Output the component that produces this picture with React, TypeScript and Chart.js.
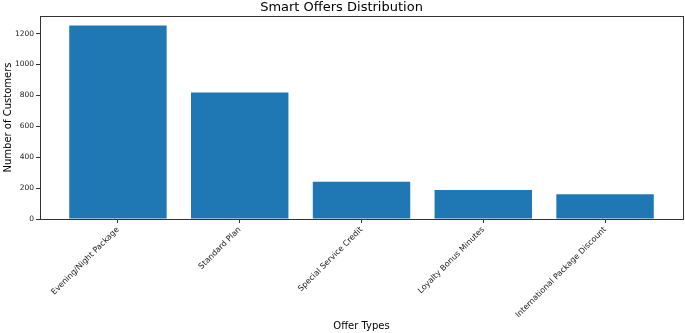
import React, { useEffect, useRef } from "react";
import { Chart, registerables } from "chart.js";

Chart.register(...registerables);

const categories = [
  "Evening/Night Package",
  "Standard Plan",
  "Special Service Credit",
  "Loyalty Bonus Minutes",
  "International Package Discount",
];
const customers = [1252, 819, 241, 187, 160];
const yTicks = [0, 200, 400, 600, 800, 1000, 1200];

const FONT = "'DejaVu Sans', sans-serif";

const framePlugin = {
  id: "frame",
  afterDraw(chart: any) {
    const { ctx, chartArea } = chart;
    ctx.save();
    ctx.strokeStyle = "#333333";
    ctx.lineWidth = 1;
    ctx.strokeRect(
      Math.round(chartArea.left) + 0.5,
      Math.round(chartArea.top) + 0.5,
      Math.round(chartArea.right - chartArea.left),
      Math.round(chartArea.bottom - chartArea.top)
    );
    ctx.restore();
  },
};

export default function App() {
  const ref = useRef<HTMLCanvasElement | null>(null);
  useEffect(() => {
    if (!ref.current) return;
    const chart = new Chart(ref.current, {
      type: "bar",
      data: {
        datasets: [
          {
            label: "Customers",
            data: customers.map((v, i) => ({ x: i, y: v })),
            backgroundColor: "#1f77b4",
            borderWidth: 0,
            barPercentage: 0.8,
            categoryPercentage: 1,
          },
        ],
      },
      options: {
        responsive: false,
        animation: false,
        devicePixelRatio: 1,
        layout: { padding: { top: 0, right: 2, left: 0, bottom: 0 } },
        plugins: {
          legend: { display: false },
          tooltip: { enabled: false },
          title: {
            display: true,
            text: "Smart Offers Distribution",
            color: "#000000",
            font: { family: FONT, size: 13, weight: "normal", lineHeight: 1.2 },
            padding: { top: 0, bottom: 0.4 },
          },
        },
        scales: {
          x: {
            type: "linear",
            min: -0.64,
            max: 4.64,
            offset: false,
            grid: { display: true, drawOnChartArea: false, drawTicks: true, tickLength: 4, color: "#333333", offset: false },
            border: { display: true, color: "#333333" },
            afterBuildTicks: (scale: any) => {
              scale.ticks = categories.map((_, i) => ({ value: i }));
            },
            afterFit: (scale: any) => {
              scale.height = 114;
            },
            ticks: {
              includeBounds: false,
              autoSkip: false,
              minRotation: 45,
              maxRotation: 45,
              color: "#1a1a1a",
              font: { family: FONT, size: 8 },
              padding: 2,
              callback: (v: any) => categories[Math.round(Number(v))] ?? "",
            },
            title: {
              display: true,
              text: "Offer Types",
              color: "#000000",
              font: { family: FONT, size: 10 },
              padding: { top: 0, bottom: 1 },
            },
          },
          y: {
            type: "linear",
            min: 0,
            max: 1314,
            grid: { display: true, drawOnChartArea: false, drawTicks: true, tickLength: 4, color: "#333333" },
            border: { display: true, color: "#333333" },
            afterBuildTicks: (scale: any) => {
              scale.ticks = yTicks.map((v) => ({ value: v }));
            },
            afterFit: (scale: any) => {
              scale.width = 40;
            },
            ticks: {
              includeBounds: false,
              color: "#1a1a1a",
              font: { family: FONT, size: 7.5 },
              padding: 2,
              callback: (v: any) => String(v),
            },
            title: {
              display: true,
              text: "Number of Customers",
              color: "#000000",
              font: { family: FONT, size: 10 },
              padding: { top: 2, bottom: 0 },
            },
          },
        },
      },
      plugins: [framePlugin],
    } as any);
    return () => chart.destroy();
  }, []);
  return (
    <div style={{ position: "absolute", left: 0, top: 0, width: 685, height: 333, background: "#ffffff" }}>
      <canvas ref={ref} width={685} height={333} style={{ display: "block" }} />
    </div>
  );
}
